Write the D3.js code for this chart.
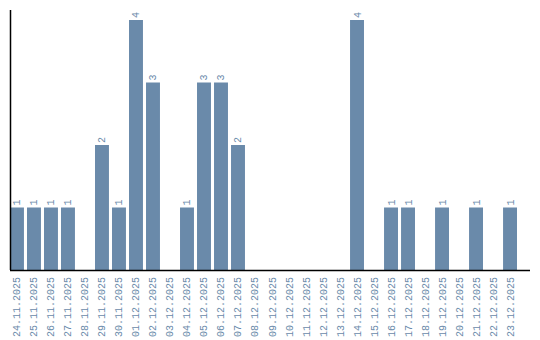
<!DOCTYPE html>
<html>
<head>
<meta charset="utf-8">
<script src="https://cdn.jsdelivr.net/npm/d3@7"></script>
<style>
  body { margin: 0; background: #fff; }
  #chart text { font-family: "Liberation Mono", monospace; font-size: 10px; fill: #6a8aaa; }
</style>
</head>
<body>
<div id="chart"></div>
<script>
// Dates shown on the x axis
const days = [
  "24.11.2025","25.11.2025","26.11.2025","27.11.2025","28.11.2025","29.11.2025","30.11.2025",
  "01.12.2025","02.12.2025","03.12.2025","04.12.2025","05.12.2025","06.12.2025","07.12.2025",
  "08.12.2025","09.12.2025","10.12.2025","11.12.2025","12.12.2025","13.12.2025","14.12.2025",
  "15.12.2025","16.12.2025","17.12.2025","18.12.2025","19.12.2025","20.12.2025","21.12.2025",
  "22.12.2025","23.12.2025"
]
// Count per day
const counts = [1,1,1,1,0,2,1,4,3,0,1,3,3,2,0,0,0,0,0,0,4,0,1,1,0,1,0,1,0,1]

const data = days.map((d, i) => ({ day: d, value: counts[i] }))

const width = 540, height = 340
const padLeft = 10, padTop = 10, baseY = 270, padRight = 517

const svg = d3.select("#chart").append("svg")
  .attr("width", width)
  .attr("height", height)

const xScale = d3.scaleBand()
  .domain(days)
  .range([padLeft, padRight])
  .paddingInner(0.18)
  .paddingOuter(0)
  .align(0)

const yScale = d3.scaleLinear()
  .domain([0, 4])
  .range([baseY, 20])

// bars
svg.selectAll("rect.bar")
  .data(data.filter(d => d.value > 0))
  .enter()
  .append("rect")
  .attr("class", "bar")
  .attr("x", d => xScale(d.day))
  .attr("y", d => yScale(d.value))
  .attr("width", xScale.bandwidth())
  .attr("height", d => baseY - yScale(d.value))
  .attr("fill", "#6a8aaa")

// value labels, rotated like the dates
svg.selectAll("text.val")
  .data(data.filter(d => d.value > 0))
  .enter()
  .append("text")
  .attr("class", "val")
  .attr("text-anchor", "start")
  .attr("transform", d => `translate(${xScale(d.day) + xScale.bandwidth() / 2 + 3.5},${yScale(d.value) - 2}) rotate(-90)`)
  .text(d => d.value)

// x axis
const xAxis = d3.axisBottom(xScale).tickSize(0).tickPadding(0)
const gx = svg.append("g")
  .attr("transform", `translate(0,${baseY})`)
  .call(xAxis)
gx.select(".domain").remove()
gx.selectAll("text")
  .attr("text-anchor", "end")
  .attr("dy", null)
  .attr("y", null)
  .attr("transform", "translate(3.5,7) rotate(-90)")

svg.append("line")
  .attr("x1", padLeft).attr("x2", 530)
  .attr("y1", baseY + 0.5).attr("y2", baseY + 0.5)
  .attr("stroke", "#000").attr("stroke-width", 1.5)

// y axis line only
svg.append("line")
  .attr("x1", padLeft + 0.5).attr("x2", padLeft + 0.5)
  .attr("y1", padTop).attr("y2", baseY)
  .attr("stroke", "#000").attr("stroke-width", 1.5)
</script>
</body>
</html>
